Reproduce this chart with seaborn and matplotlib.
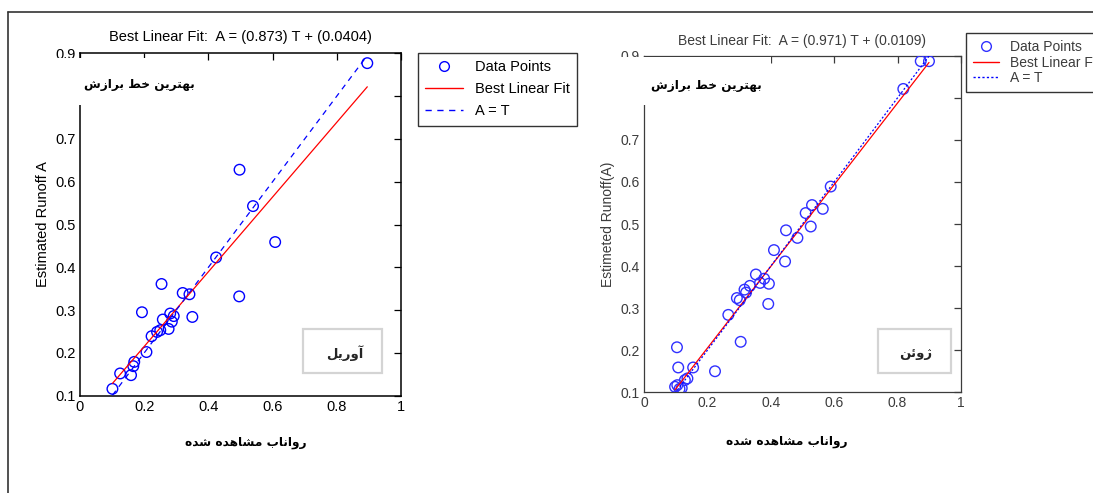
import matplotlib
matplotlib.use("Agg")
import matplotlib.pyplot as plt
import matplotlib.ticker as mticker
from matplotlib.lines import Line2D
from matplotlib.patches import Rectangle
import numpy as np
import pandas as pd
import seaborn as sns

# ---------------- data ----------------
april_T = [0.101, 0.125, 0.159, 0.166, 0.169, 0.193, 0.207, 0.223, 0.240, 0.250,
           0.254, 0.258, 0.276, 0.281, 0.286, 0.292, 0.320, 0.341, 0.350, 0.424,
           0.496, 0.497, 0.539, 0.608, 0.895]
april_A = [0.116, 0.152, 0.148, 0.169, 0.179, 0.295, 0.202, 0.239, 0.249, 0.253,
           0.361, 0.278, 0.256, 0.292, 0.273, 0.286, 0.340, 0.337, 0.284, 0.423,
           0.332, 0.628, 0.543, 0.459, 0.877]
april_fit = (0.873, 0.0404)

june_T = [0.098, 0.105, 0.112, 0.119, 0.129, 0.137, 0.104, 0.108, 0.155, 0.224,
          0.266, 0.293, 0.302, 0.305, 0.317, 0.322, 0.334, 0.353, 0.366, 0.379,
          0.392, 0.394, 0.410, 0.445, 0.448, 0.484, 0.510, 0.526, 0.530, 0.564,
          0.589, 0.818, 0.873, 0.899]
june_A = [0.113, 0.117, 0.108, 0.110, 0.129, 0.133, 0.207, 0.159, 0.159, 0.150,
          0.284, 0.324, 0.319, 0.220, 0.344, 0.337, 0.353, 0.380, 0.360, 0.370,
          0.310, 0.358, 0.438, 0.411, 0.485, 0.467, 0.526, 0.494, 0.545, 0.536,
          0.589, 0.821, 0.887, 0.887]
june_fit = (0.971, 0.0109)

x_ticks = [0, 0.2, 0.4, 0.6, 0.8, 1.0]
y_ticks = [0.1, 0.2, 0.3, 0.4, 0.5, 0.6, 0.7, 0.8, 0.9]

legend_labels = ["Data Points", "Best Linear Fit", "A = T"]
title_fmt = "Best Linear Fit:  A = ({:.3f}) T + ({:.4f})"
ylabel_april = "Estimated Runoff A"
ylabel_june = "Estimeted Runoff(A)"
xlabel_fa = "رواناب مشاهده شده"
corner_fa = "بهترین خط برازش"
month_april = "آوریل"
month_june = "ژوئن"

# ---------------- minimal Persian shaping ----------------
FORMS = {
    'ا': ('\uFE8D', '\uFE8E', None, None),
    'آ': ('\uFE81', '\uFE82', None, None),
    'ب': ('\uFE8F', '\uFE90', '\uFE91', '\uFE92'),
    'ت': ('\uFE95', '\uFE96', '\uFE97', '\uFE98'),
    'خ': ('\uFEA5', '\uFEA6', '\uFEA7', '\uFEA8'),
    'د': ('\uFEA9', '\uFEAA', None, None),
    'ر': ('\uFEAD', '\uFEAE', None, None),
    'ز': ('\uFEAF', '\uFEB0', None, None),
    'ژ': ('\uFB8A', '\uFB8B', None, None),
    'ش': ('\uFEB5', '\uFEB6', '\uFEB7', '\uFEB8'),
    'ط': ('\uFEC1', '\uFEC2', '\uFEC3', '\uFEC4'),
    'ل': ('\uFEDD', '\uFEDE', '\uFEDF', '\uFEE0'),
    'م': ('\uFEE1', '\uFEE2', '\uFEE3', '\uFEE4'),
    'ن': ('\uFEE5', '\uFEE6', '\uFEE7', '\uFEE8'),
    'ه': ('\uFEE9', '\uFEEA', '\uFEEB', '\uFEEC'),
    'و': ('\uFEED', '\uFEEE', None, None),
    'ی': ('\uFBFC', '\uFBFD', '\uFBFE', '\uFBFF'),
    'ئ': ('\uFE89', '\uFE8A', '\uFE8B', '\uFE8C'),
}


def shape(s):
    out = []
    for i, ch in enumerate(s):
        if ch not in FORMS:
            out.append(ch)
            continue
        iso, fin, ini, med = FORMS[ch]
        prev = s[i - 1] if i > 0 else None
        nxt = s[i + 1] if i + 1 < len(s) else None
        jp = prev in FORMS and FORMS[prev][2] is not None
        jn = ini is not None and nxt in FORMS
        if jp and jn:
            out.append(med)
        elif jp:
            out.append(fin)
        elif jn:
            out.append(ini)
        else:
            out.append(iso)
    return ''.join(reversed(out))


# ---------------- style ----------------
sns.set_style("white")
plt.rcParams['font.family'] = ['Liberation Sans', 'DejaVu Sans']
FA = ['DejaVu Sans']

W, H = 1093, 493
fig = plt.figure(figsize=(W / 100, H / 100), dpi=100)


def px_ax(x0, x1, y0, y1):
    return fig.add_axes([x0 / W, 1 - y1 / H, (x1 - x0) / W, (y1 - y0) / H])


def draw_panel(ax, T, A, fit, title, ylabel, month, tcol, mcol, dash, lw_sp,
               month_box, month_xy, white_box, leg_anchor, title_pad, fs,
               leg_fs, leg_sp, leg_hl, corner_xy, xlab_xy):
    df = pd.DataFrame({"T": T, "A": A})
    sns.scatterplot(data=df, x="T", y="A", ax=ax, marker='o', s=58,
                    facecolors='none', edgecolor=mcol, linewidth=1.0,
                    legend=False, zorder=3)
    xs = np.array([min(T), max(T)])
    ax.plot(xs, fit[0] * xs + fit[1], color='red', lw=0.9, zorder=4)
    ax.plot(xs, xs, color='blue', lw=0.9, dashes=dash, zorder=4)

    ax.set_xlim(0, 1)
    ax.set_ylim(0.1, 0.9)
    ax.set_xticks(x_ticks)
    ax.set_yticks(y_ticks)
    fmt = mticker.FuncFormatter(lambda v, p: f"{v:g}")
    ax.xaxis.set_major_formatter(fmt)
    ax.yaxis.set_major_formatter(fmt)
    ax.tick_params(direction='in', length=5, width=0.9, top=True, right=True,
                   labelsize=fs, colors=tcol, pad=3)
    for sp in ax.spines.values():
        sp.set_color(tcol)
        sp.set_linewidth(lw_sp)
    ax.set_title(title, fontsize=fs, color=tcol, pad=title_pad)
    ax.set_ylabel(ylabel, fontsize=fs, color=tcol, labelpad=4)
    ax.set_xlabel(shape(xlabel_fa), fontsize=8.7, fontweight='bold',
                  color='black', family=FA)
    ax.xaxis.label.set_va('center')
    ax.xaxis.set_label_coords(*xlab_xy)

    # white box with Persian caption (covers the left spine)
    bx0, bx1, by0, by1 = white_box
    ax.add_patch(Rectangle((bx0, by0), bx1 - bx0, by1 - by0, facecolor='white',
                           edgecolor='none', clip_on=False, zorder=10,
                           transform=ax.transData))
    ax.text(corner_xy[0], corner_xy[1], shape(corner_fa),
            fontsize=8.7, fontweight='bold', family=FA, ha='center',
            va='center', zorder=11, color='black')

    # month box
    mx0, mx1, my0, my1 = month_box
    ax.add_patch(Rectangle((mx0, my0), mx1 - mx0, my1 - my0, facecolor='white',
                           edgecolor='#d4d4d4', lw=1.6, zorder=5))
    ax.text(month_xy[0], month_xy[1], shape(month), fontsize=9.5,
            fontweight='bold', family=FA, ha='right', va='center', zorder=6)

    handles = [
        Line2D([], [], marker='o', ls='none', markerfacecolor='none',
               markeredgecolor=mcol, markersize=7),
        Line2D([], [], color='red', lw=1.0),
        Line2D([], [], color='blue', lw=1.0, dashes=dash),
    ]
    leg = fig.legend(handles, legend_labels, loc='upper left',
                     bbox_to_anchor=(leg_anchor[0] / W, 1 - leg_anchor[1] / H),
                     bbox_transform=fig.transFigure, fontsize=leg_fs,
                     frameon=True, fancybox=False, borderaxespad=0,
                     handlelength=leg_hl, handletextpad=0.8,
                     labelspacing=leg_sp, borderpad=0.5)
    leg.get_frame().set_edgecolor('black')
    leg.get_frame().set_linewidth(1.0)
    for t in leg.get_texts():
        t.set_color(tcol)


ax1 = px_ax(80, 401, 53.3, 395.7)
draw_panel(ax1, april_T, april_A, april_fit, title_fmt.format(*april_fit),
           ylabel_april, month_april, 'black', 'blue', (4.5, 4), 1.1,
           (0.695, 0.941, 0.153, 0.256), (0.882, 0.20),
           (-0.16, 0.375, 0.779, 0.888), (418, 53), 8.5, 10.5, 10.5, 0.55,
           2.6, (0.186, 0.827), ((246 - 80) / 321, (395.7 - 442) / 342.4))

ax2 = px_ax(644, 961, 55.7, 392.3)
draw_panel(ax2, june_T, june_A, june_fit, title_fmt.format(*june_fit),
           ylabel_june, month_june, '#3c3c3c', '#3030ff', (1.6, 1.6), 0.9,
           (0.738, 0.968, 0.146, 0.250), (0.909, 0.193),
           (-0.14, 0.40, 0.783, 0.896), (966, 33), 7.5, 10, 10, 0.12,
           1.9, (0.196, 0.829), ((787 - 644) / 317, (392.3 - 442) / 336.6))

# outer frame lines (top and left)
fig.add_artist(Line2D([8 / W, 1], [1 - 12 / H, 1 - 12 / H], color='#333333',
                      lw=1.2, transform=fig.transFigure))
fig.add_artist(Line2D([8 / W, 8 / W], [0, 1 - 12 / H], color='#333333',
                      lw=1.2, transform=fig.transFigure))

fig.savefig("out.png", dpi=100)
